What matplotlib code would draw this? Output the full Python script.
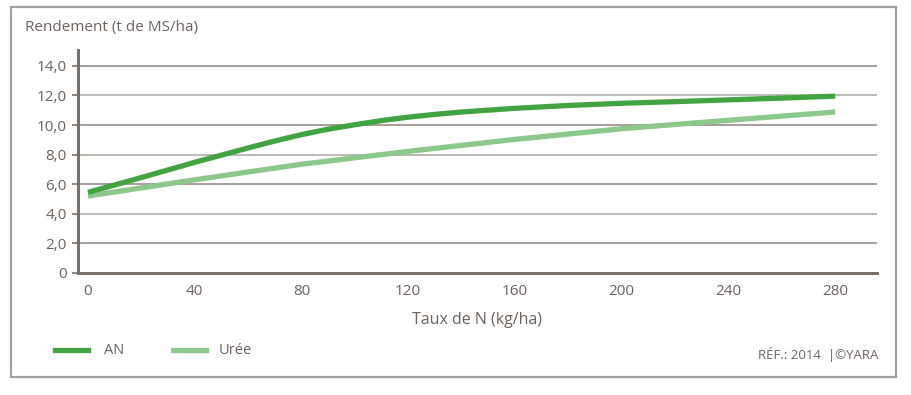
import matplotlib
matplotlib.use("Agg")
import matplotlib.pyplot as plt
from matplotlib.patches import Rectangle
from matplotlib.lines import Line2D

# Data
n_rate = [0, 20, 40, 60, 70, 80, 90, 100, 110, 120, 130, 140, 160, 180, 200, 220, 240, 260, 280]
an_yield = [5.45, 6.45, 7.48, 8.45, 8.92, 9.35, 9.72, 10.02, 10.3, 10.53, 10.72, 10.88, 11.13, 11.32, 11.47, 11.58, 11.7, 11.82, 11.95]
uree_x = [0, 40, 80, 120, 160, 200, 240, 280]
uree_yield = [5.2, 6.3, 7.35, 8.22, 9.03, 9.75, 10.32, 10.88]
x_ticks = [0, 40, 80, 120, 160, 200, 240, 280]
y_ticks = [0, 2, 4, 6, 8, 10, 12, 14]
y_labels = ["0", "2,0", "4,0", "6,0", "8,0", "10,0", "12,0", "14,0"]

plt.rcParams['font.family'] = ['Open Sans', 'DejaVu Sans']

TXT = '#6b625c'
AX = '#7a706a'
AN_C = '#41a440'
UR_C = '#8cc88a'

fig = plt.figure(figsize=(9.12, 3.95), dpi=100)
W, H = 912, 395

# outer frame
fig.patches.append(Rectangle((11 / W, 1 - 377 / H), 885 / W, 370 / H, transform=fig.transFigure,
                             fill=False, edgecolor='#a39f9b', linewidth=1.6))

ax = fig.add_axes([78 / W, 1 - 273 / H, 799 / W, 223 / H])
ax.set_xlim(-3.75, 295.7)
ax.set_ylim(0, 15.07)

grid_cols = ['#aaa6a3', '#8d847e']
for i, yv in enumerate(y_ticks[1:]):
    ax.axhline(yv, color=grid_cols[(i + 1) % 2], linewidth=1.1, zorder=1)

ax.plot(uree_x, uree_yield, color=UR_C, linewidth=3.8, solid_capstyle='butt', zorder=3)
ax.plot(n_rate, an_yield, color=AN_C, linewidth=3.8, solid_capstyle='butt', zorder=4)

for s in ['top', 'right']:
    ax.spines[s].set_visible(False)
for s in ['left', 'bottom']:
    ax.spines[s].set_color(AX)
    ax.spines[s].set_linewidth(2.2)

ax.set_yticks(y_ticks)
ax.set_yticklabels(y_labels)
ax.set_xticks(x_ticks)
ax.set_xticklabels([str(v) for v in x_ticks])
ax.tick_params(axis='y', length=4, width=1.2, color=AX, labelcolor=TXT, labelsize=11, pad=4)
ax.tick_params(axis='x', length=0, labelcolor=TXT, labelsize=11, pad=8)

ax.set_xlabel("Taux de N (kg/ha)", color=TXT, fontsize=11.5, labelpad=9)

fig.text(25 / W, 1 - 28 / H, "Rendement (t de MS/ha)", color=TXT, fontsize=11, va='center', ha='left')

# legend
fig.lines.append(Line2D([55 / W, 88 / W], [1 - 350 / H] * 2, transform=fig.transFigure, color=AN_C, linewidth=3.8))
fig.text(104 / W, 1 - 350 / H, "AN", color=TXT, fontsize=10.5, va='center', ha='left')
fig.lines.append(Line2D([173 / W, 206 / W], [1 - 350 / H] * 2, transform=fig.transFigure, color=UR_C, linewidth=3.8))
fig.text(219 / W, 1 - 350 / H, "Urée", color=TXT, fontsize=10.5, va='center', ha='left')

fig.text(878 / W, 1 - 355 / H, "RÉF.: 2014  |©YARA", color=TXT, fontsize=9.5, va='center', ha='right')

fig.savefig("out.png", dpi=100, facecolor='white')
